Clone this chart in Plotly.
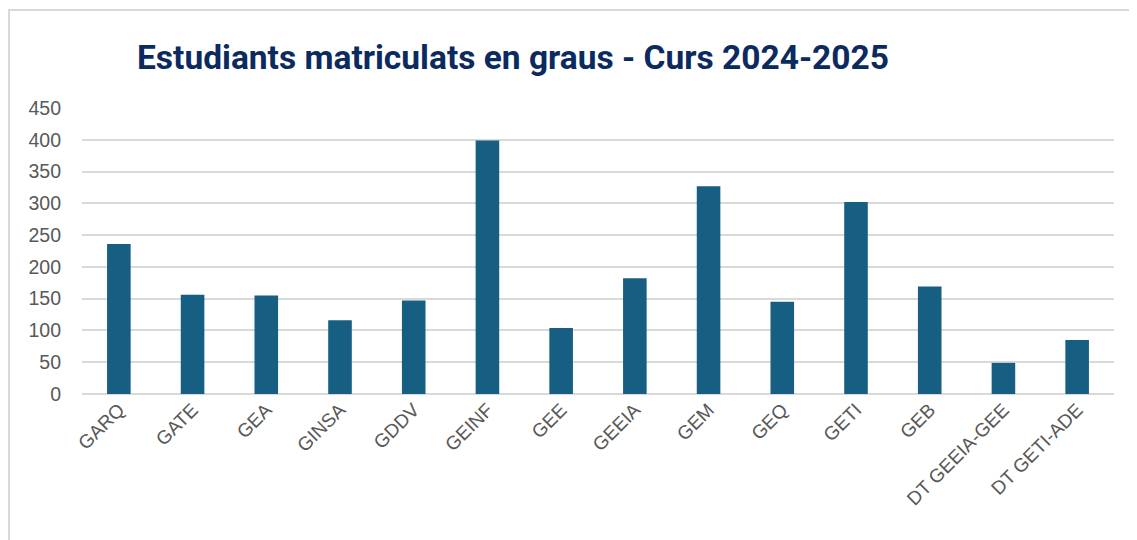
import plotly.graph_objects as go

categories = ["GARQ", "GATE", "GEA", "GINSA", "GDDV", "GEINF", "GEE", "GEEIA",
              "GEM", "GEQ", "GETI", "GEB", "DT GEEIA-GEE", "DT GETI-ADE"]
students = [236, 156, 155, 116, 147, 399, 104, 182, 327, 145, 302, 169, 49, 85]
y_ticks = [0, 50, 100, 150, 200, 250, 300, 350, 400, 450]
title_text = "Estudiants matriculats en graus - Curs 2024-2025"

fig = go.Figure(go.Bar(
    x=categories, y=students,
    marker=dict(color="#175F82", line=dict(width=0)),
    width=0.32,
))

# page body has an 8px margin; figure coordinates are offset accordingly
W, H = 1129, 532
L, R, T, B = 74, 23, 100, 146
pw, ph = W - L - R, H - T - B

fig.update_layout(
    width=W, height=H,
    margin=dict(l=L, r=R, t=T, b=B),
    paper_bgcolor="white", plot_bgcolor="white",
    showlegend=False,
    title=dict(text=title_text, x=(505 - L) / pw, xref="paper", xanchor="center",
               y=1 - 49 / H, yref="container", yanchor="middle",
               font=dict(family="Roboto", size=33.5, color="#0B2A5F", weight="bold")),
    font=dict(family="Liberation Sans", size=19, color="#595959"),
    xaxis=dict(tickangle=-45, showgrid=False, zeroline=False, showline=False,
               ticks="", tickfont=dict(size=19, color="#595959")),
    yaxis=dict(range=[0, 450], tickvals=y_ticks, showgrid=True, gridcolor="#D9D9D9",
               gridwidth=2, zeroline=True, zerolinecolor="#D9D9D9", zerolinewidth=2,
               showline=False, ticks="", ticklabelstandoff=20,
               tickfont=dict(size=19.5, color="#595959")),
    shapes=[dict(type="rect", xref="paper", yref="paper",
                 x0=(1 - L) / pw, x1=(1160 - L) / pw,
                 y0=-(560 - (H - B)) / ph, y1=((H - B) - 2) / ph,
                 line=dict(color="#D9D9D9", width=2), fillcolor="rgba(0,0,0,0)", layer="below")],
)

fig.write_html("out.html")
